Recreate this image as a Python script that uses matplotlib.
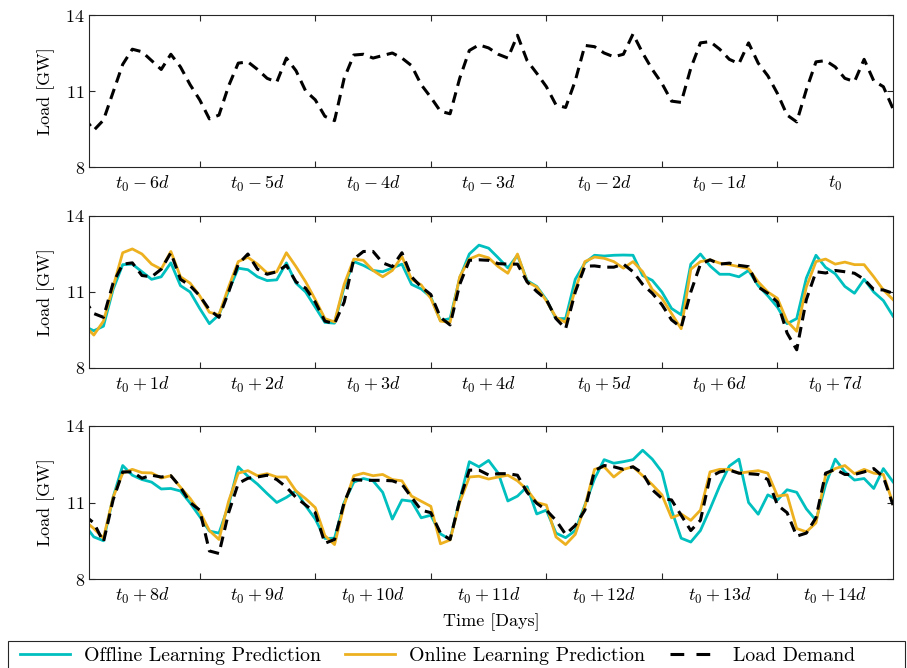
import numpy as np
import matplotlib
matplotlib.use("Agg")
import matplotlib.pyplot as plt
from matplotlib.patches import Rectangle
from matplotlib.lines import Line2D

plt.rcParams['font.family'] = ['cmr10']
plt.rcParams['mathtext.fontset'] = 'cm'
plt.rcParams['axes.formatter.use_mathtext'] = True
plt.rcParams['font.size'] = 13

# hours since start of each 7-day window (2-hourly samples)
hours = np.arange(0, 169, 2)

# week before t0: load demand only
load_past = [9.95, 9.45, 9.85, 10.95, 12.05, 12.65, 12.55, 12.2, 11.85, 12.45,
             11.95, 11.25, 10.65, 9.9, 10.05, 11.2, 12.1, 12.15, 11.85, 11.5,
             11.35, 12.3, 11.8, 11.0, 10.65, 10.0, 9.83, 11.5, 12.42, 12.45,
             12.3, 12.4, 12.5, 12.3, 12.0, 11.25, 10.75, 10.2, 10.1, 11.5,
             12.6, 12.82, 12.7, 12.45, 12.3, 13.2, 12.2, 11.7, 11.17, 10.45,
             10.35, 11.4, 12.8, 12.75, 12.5, 12.35, 12.45, 13.25, 12.5, 11.85,
             11.3, 10.6, 10.55, 11.9, 12.9, 12.95, 12.65, 12.25, 12.08, 12.9,
             12.1, 11.6, 10.9, 10.05, 9.78, 11.05, 12.15, 12.2, 11.95, 11.5,
             11.37, 12.25, 11.4, 11.17, 10.3]

# first week after t0
offline_wk1 = [9.65, 9.47, 9.65, 11.1, 12.08, 12.1, 11.8, 11.5, 11.6, 12.15,
               11.25, 11.0, 10.35, 9.75, 10.1, 11.05, 11.94, 11.88, 11.6, 11.45,
               11.48, 12.15, 11.35, 11.0, 10.4, 9.8, 9.77, 11.2, 12.2, 12.05,
               11.85, 11.8, 11.95, 12.1, 11.3, 11.12, 10.8, 9.87, 9.95, 11.55,
               12.5, 12.85, 12.73, 12.35, 11.95, 12.45, 11.45, 11.22, 10.7, 9.95,
               9.95, 11.5, 12.15, 12.45, 12.42, 12.45, 12.46, 12.45, 11.65, 11.46,
               11.0, 10.35, 10.1, 12.1, 12.5, 12.03, 11.7, 11.7, 11.6, 11.85,
               11.25, 10.85, 10.4, 9.75, 9.95, 11.55, 12.45, 11.97, 11.72, 11.22,
               10.95, 11.5, 11.0, 10.66, 10.05]
online_wk1 = [9.7, 9.3, 9.85, 11.2, 12.55, 12.7, 12.5, 12.1, 11.9, 12.6,
              11.6, 11.35, 10.85, 10.2, 10.1, 11.2, 12.2, 12.37, 12.1, 11.75,
              11.8, 12.55, 12.0, 11.4, 10.7, 9.95, 9.82, 11.3, 12.3, 12.25,
              11.85, 11.6, 11.85, 12.4, 11.5, 11.28, 10.75, 9.85, 9.8, 11.6,
              12.3, 12.46, 12.35, 12.0, 11.74, 12.5, 11.4, 11.2, 10.65, 10.0,
              9.8, 11.1, 12.2, 12.38, 12.33, 12.2, 11.94, 12.2, 11.8, 11.1,
              10.75, 10.15, 9.55, 11.9, 12.2, 12.27, 12.14, 12.08, 12.0, 11.92,
              11.4, 11.0, 10.75, 9.85, 9.45, 11.2, 12.2, 12.3, 12.1, 12.18,
              12.08, 12.08, 11.6, 11.08, 10.7]
load_wk1 = [10.7, 10.15, 10.0, 11.35, 12.1, 12.15, 11.65, 11.6, 11.9, 12.55,
            11.5, 11.25, 10.85, 10.3, 10.0, 11.0, 12.1, 12.5, 11.9, 11.7,
            11.8, 12.05, 11.4, 11.15, 10.6, 9.85, 9.75, 10.6, 12.3, 12.6,
            12.6, 12.15, 12.0, 12.55, 11.6, 11.2, 10.9, 10.0, 9.7, 11.3,
            12.25, 12.27, 12.25, 12.12, 12.1, 12.1, 11.4, 11.02, 10.7, 9.95,
            9.55, 11.0, 12.02, 12.03, 11.98, 11.98, 12.1, 11.8, 11.3, 10.95,
            10.5, 9.9, 9.6, 11.0, 12.1, 12.27, 12.1, 12.14, 12.05, 12.0,
            11.2, 10.95, 10.6, 9.38, 8.72, 10.7, 11.8, 11.75, 11.85, 11.8,
            11.74, 11.5, 11.1, 11.08, 10.95]

# second week after t0
offline_wk2 = [10.15, 9.65, 9.5, 11.2, 12.45, 12.07, 11.9, 11.8, 11.53, 11.55,
               11.45, 10.98, 10.45, 9.88, 9.8, 10.9, 12.4, 12.03, 11.72, 11.35,
               11.0, 11.2, 11.45, 10.87, 10.35, 9.59, 9.6, 11.0, 11.8, 11.94,
               11.85, 11.4, 10.35, 11.1, 11.05, 10.4, 10.5, 9.77, 9.55, 11.1,
               12.6, 12.4, 12.65, 12.15, 11.06, 11.25, 11.62, 10.55, 10.7, 9.8,
               9.62, 9.9, 10.9, 11.93, 12.68, 12.54, 12.6, 12.68, 13.05, 12.7,
               12.2, 10.7, 9.6, 9.45, 9.9, 10.75, 11.65, 12.43, 12.7, 11.0,
               10.54, 11.3, 11.1, 11.5, 11.4, 10.75, 10.3, 11.7, 12.7, 12.2,
               11.88, 11.94, 11.55, 12.33, 11.81]
online_wk2 = [10.3, 9.98, 9.6, 11.2, 12.15, 12.3, 12.17, 12.16, 11.96, 12.05,
              11.6, 11.16, 10.64, 9.9, 9.55, 11.05, 12.15, 12.25, 12.05, 12.13,
              12.0, 12.0, 11.45, 11.15, 10.8, 9.7, 9.35, 10.9, 12.05, 12.15,
              12.05, 12.1, 11.9, 11.85, 11.25, 11.05, 10.85, 9.38, 9.53, 11.0,
              12.0, 12.03, 11.92, 12.0, 12.07, 11.85, 11.5, 11.0, 10.9, 9.65,
              9.35, 9.75, 10.85, 12.3, 12.4, 12.0, 12.3, 12.4, 12.05, 11.7,
              11.3, 10.4, 10.55, 10.3, 10.7, 12.2, 12.3, 12.3, 12.15, 12.2,
              12.25, 12.15, 11.25, 11.3, 9.98, 9.85, 10.2, 12.07, 12.33, 12.45,
              12.13, 12.3, 12.15, 12.1, 10.96]
load_wk2 = [10.5, 10.2, 9.45, 11.1, 12.2, 12.2, 11.95, 12.07, 12.0, 12.05,
            11.6, 11.0, 10.7, 9.1, 9.0, 10.6, 11.75, 11.95, 12.0, 12.07,
            11.9, 11.6, 11.2, 10.9, 10.6, 9.4, 9.55, 11.0, 11.9, 11.87,
            11.87, 11.87, 11.85, 11.72, 11.2, 10.7, 10.6, 9.8, 9.55, 11.1,
            12.27, 12.27, 12.08, 12.13, 12.13, 12.07, 11.4, 10.97, 10.7, 10.3,
            9.75, 10.1, 10.7, 12.25, 12.45, 12.4, 12.3, 12.4, 12.15, 11.5,
            11.16, 11.1, 10.5, 9.9, 10.3, 12.0, 12.2, 12.27, 12.15, 12.13,
            12.1, 11.9, 10.9, 10.6, 9.68, 9.8, 10.4, 12.15, 12.3, 12.1,
            12.1, 12.2, 12.33, 12.0, 10.9]

labels_past = [r'$t_0 - 6d$', r'$t_0 - 5d$', r'$t_0 - 4d$', r'$t_0 - 3d$',
               r'$t_0 - 2d$', r'$t_0 - 1d$', r'$t_0$']
labels_wk1 = [r'$t_0 + %dd$' % i for i in range(1, 8)]
labels_wk2 = [r'$t_0 + %dd$' % i for i in range(8, 15)]

c_off = (0.0, 0.75, 0.75)
c_on = (0.929, 0.694, 0.125)
dash = (0, (3.5, 2.2))

fig = plt.figure(figsize=(9.07, 6.68), dpi=100)
W, H = 907, 668
boxes = [(15, 167), (216, 368), (426, 579)]
axes = []
for top, bot in boxes:
    ax = fig.add_axes([89 / W, 1 - bot / H, (893 - 89) / W, (bot - top) / H])
    axes.append(ax)

panels = [(None, None, load_past, labels_past),
          (offline_wk1, online_wk1, load_wk1, labels_wk1),
          (offline_wk2, online_wk2, load_wk2, labels_wk2)]

for ax, (off, on, load, labs) in zip(axes, panels):
    if off is not None:
        ax.plot(hours, off, color=c_off, lw=2.0)
        ax.plot(hours, on, color=c_on, lw=2.0)
    ax.plot(hours, load, color='k', lw=2.2, ls=dash)
    ax.set_xlim(1, 168)
    ax.set_ylim(8, 14)
    ax.set_yticks([8, 11, 14])
    ax.set_xticks(np.arange(24, 168, 24))
    ax.set_xticklabels([])
    ax.set_xticks(np.arange(12, 168, 24), minor=True)
    ax.set_xticklabels(labs, minor=True)
    ax.tick_params(which='major', direction='in', length=4, width=0.8,
                   top=True, right=True, color='#262626', pad=3)
    ax.tick_params(which='minor', length=0, pad=5)
    for s in ax.spines.values():
        s.set_linewidth(0.8)
        s.set_color('#262626')
    ax.set_ylabel('Load [GW]')
    ax.yaxis.set_label_coords(-0.042, 0.5)

axes[2].set_xlabel('Time [Days]')
axes[2].xaxis.set_label_coords(0.5, -0.222)

handles = [Line2D([], [], color=c_off, lw=2.0),
           Line2D([], [], color=c_on, lw=2.0),
           Line2D([], [], color='k', lw=2.2, ls=(0, (4.5, 4.0)))]
fig.legend(handles, ['Offline Learning Prediction', 'Online Learning Prediction',
                     'Load Demand'],
           loc='center left', bbox_to_anchor=(18 / W, 0.018), ncol=3,
           frameon=False, borderaxespad=0, borderpad=0.1, fontsize=14.3,
           handlelength=2.5, handletextpad=0.7, columnspacing=1.25)
fig.patches.append(Rectangle((8 / W, -0.02), (905 - 8) / W, 27 / H + 0.02,
                             transform=fig.transFigure, fill=False,
                             ec='#262626', lw=0.8))

fig.savefig('out.png', dpi=100)
